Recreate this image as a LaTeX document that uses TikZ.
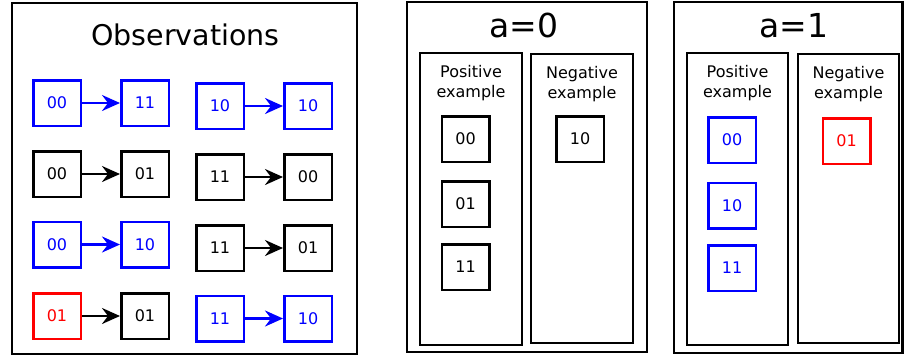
\documentclass[tikz,border=0pt]{standalone}
\usepackage{fontspec}
\setmainfont{DejaVu Sans}
\usetikzlibrary{arrows.meta,positioning}
\tikzset{
    bit/.style={draw,line width=2.5pt,minimum width=47.5pt,minimum height=45.5pt,inner sep=0pt,font=\fontsize{16}{18}\selectfont},
    frame/.style={draw,line width=2.5pt},
    trans/.style={line width=2.5pt,-{Stealth[length=18pt,width=16pt,inset=6pt]}},
    caption/.style={font=\fontsize{16}{20}\selectfont,align=center,inner sep=0pt,anchor=north},
    heading/.style={anchor=base,inner sep=0pt},
}

\begin{document}
\begin{tikzpicture}[x=1pt,y=-1pt]
\useasboundingbox (0,0) rectangle (904,356);

% observations
\draw[frame] (12,3) rectangle (357,354);
\node[heading,font=\fontsize{28.5}{32}\selectfont] (obs) at (185.5,45) {Observations};
\foreach \i/\y/\a/\b/\ca/\cb in {1/103/00/11/blue/blue,2/174/00/01/black/black,3/244.5/00/10/blue/blue,4/316/01/01/red/black}
  {
   \node[bit,draw=\ca,text=\ca] (s\i) at (57,\y) {\a};
   \node[bit,draw=\cb,text=\cb] (t\i) at (145,\y) {\b};
   \draw[trans,\cb] (s\i) -- (t\i);
  }
\foreach \i/\y/\a/\b/\ca/\cb in {1/106/10/10/blue/blue,2/177/11/00/black/black,3/248/11/01/black/black,4/318.5/11/10/blue/blue}
  {
   \node[bit,draw=\ca,text=\ca] (u\i) at (220,\y) {\a};
   \node[bit,draw=\cb,text=\cb] (v\i) at (308,\y) {\b};
   \draw[trans,\cb] (u\i) -- (v\i);
  }

% a=0
\draw[frame] (407,2) rectangle (647,352);
\node[heading,font=\fontsize{33}{36}\selectfont] (hzero) at (524,37) {a=0};
\draw[frame] (420,53) rectangle (522,345);
\draw[frame] (531,54) rectangle (633,343);
\node[caption] (pzero) at (471,65) {Positive\\example};
\node[caption] (nzero) at (582,66) {Negative\\example};
\foreach \y/\t in {139/00,204/01,267/11}
   \node[bit] (z\t) at (465.5,\y) {\t};
\node[bit] (zn) at (580,139) {10};

% a=1
\draw[frame] (674,2) rectangle (902.5,353);
\node[heading,font=\fontsize{33}{36}\selectfont] (hone) at (794,37) {a=1};
\draw[frame] (687,53) rectangle (788,345);
\draw[frame] (798,54) rectangle (899,343);
\node[caption] (pone) at (737.5,65) {Positive\\example};
\node[caption] (none) at (848.5,66) {Negative\\example};
\foreach \y/\t in {140/00,205.5/10,268/11}
   \node[bit,draw=blue,text=blue] (o\t) at (732,\y) {\t};
\node[bit,draw=red,text=red] (on) at (846.5,141) {01};

\end{tikzpicture}
\end{document}
